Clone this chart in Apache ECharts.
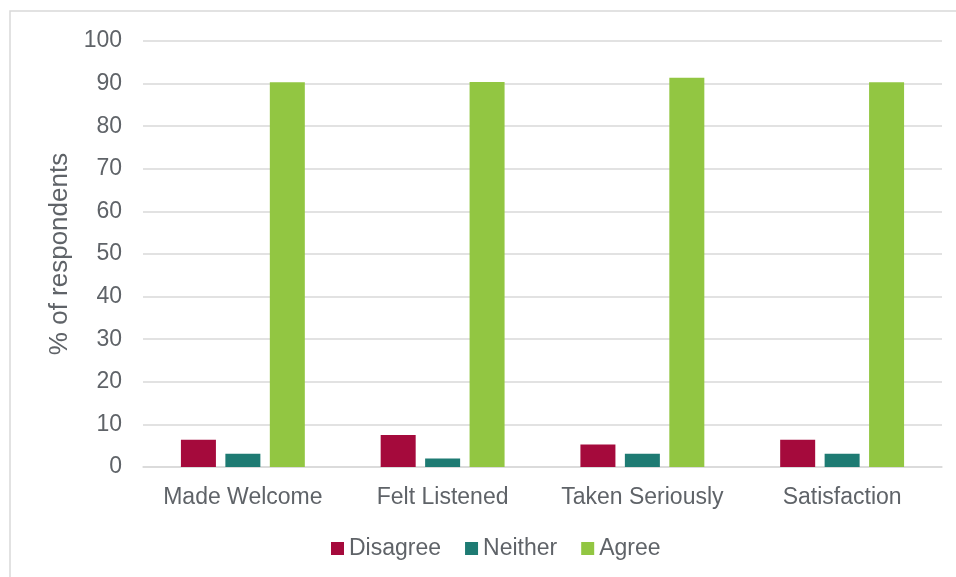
<!DOCTYPE html>
<html>
<head>
<meta charset="utf-8">
<script src="https://cdn.jsdelivr.net/npm/echarts@6/dist/echarts.min.js"></script>
<style>
html,body{margin:0;padding:0;background:#fff;}
#chart{width:956px;height:577px;}
</style>
</head>
<body>
<div id="chart"></div>
<script>
const categories = ['Made Welcome', 'Felt Listened', 'Taken Seriously', 'Satisfaction'];
const disagree = [6.4, 7.5, 5.3, 6.4];
const neither = [3.1, 2.0, 3.1, 3.1];
const agree = [90.3, 90.4, 91.4, 90.3];
const yTicks = [0, 10, 20, 30, 40, 50, 60, 70, 80, 90, 100];

const font = 'Liberation Sans, Arial, sans-serif';
const textColor = '#5f6368';
const chart = echarts.init(document.getElementById('chart'));
chart.setOption({
  animation: false,
  backgroundColor: '#fff',
  graphic: [{
    type: 'rect',
    shape: { x: 10, y: 11, width: 1000, height: 700 },
    style: { fill: 'none', stroke: '#d9d9d9', lineWidth: 1.5 },
    silent: true, z: -1
  }],
  grid: { left: 143, right: 14, top: 41, bottom: 110, containLabel: false },
  legend: {
    bottom: 12,
    left: 326,
    itemWidth: 13,
    itemHeight: 13,
    itemGap: 24,
    icon: 'rect',
    textStyle: { fontFamily: font, fontSize: 23, color: textColor },
    data: ['Disagree', 'Neither', 'Agree']
  },
  xAxis: {
    type: 'category',
    data: categories,
    axisLine: { lineStyle: { color: '#d9d9d9', width: 1.5 } },
    axisTick: { show: false },
    axisLabel: { fontFamily: font, fontSize: 23, color: textColor, margin: 19, interval: 0 }
  },
  yAxis: {
    type: 'value',
    min: yTicks[0],
    max: yTicks[yTicks.length - 1],
    interval: 10,
    name: '% of respondents',
    nameLocation: 'middle',
    nameGap: 66,
    nameRotate: 90,
    nameTextStyle: { fontFamily: font, fontSize: 26, color: textColor },
    axisLine: { show: false },
    axisTick: { show: false },
    axisLabel: { fontFamily: font, fontSize: 23, color: textColor, margin: 21 },
    splitLine: { lineStyle: { color: '#d9d9d9', width: 1.5 } }
  },
  series: [
    { name: 'Disagree', type: 'bar', data: disagree, barWidth: 35, barGap: '27%',
      itemStyle: { color: '#a50a3c' } },
    { name: 'Neither', type: 'bar', data: neither, barWidth: 35, barGap: '27%',
      itemStyle: { color: '#1e7b73' } },
    { name: 'Agree', type: 'bar', data: agree, barWidth: 35, barGap: '27%',
      itemStyle: { color: '#92c642' } }
  ]
});
</script>
</body>
</html>
